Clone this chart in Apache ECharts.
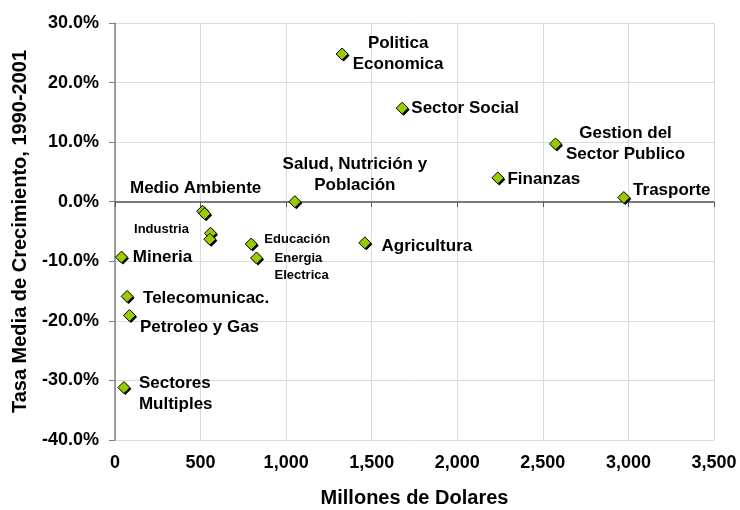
<!DOCTYPE html>
<html>
<head>
<meta charset="utf-8">
<script src="https://cdn.jsdelivr.net/npm/echarts@6/dist/echarts.min.js"></script>
<style>
  html, body { margin: 0; padding: 0; background: #fff; }
  #container { width: 740px; height: 510px; }
</style>
</head>
<body>
<div id="container"></div>
<script>
// sectors, investment (millones de dolares) and average growth 1990-2001 (%)
var sectors = ['Politica\nEconomica', 'Sector Social', 'Gestion del\nSector Publico', 'Finanzas',
    'Trasporte', 'Salud, Nutrición y\nPoblación', 'Agricultura', 'Medio Ambiente', '',
    'Industria', '', 'Educación', 'Energia\nElectrica', 'Mineria', 'Telecomunicac.',
    'Petroleo y Gas', 'Sectores\nMultiples'];
var montos = [1327, 1678, 2574, 2237, 2973, 1051, 1460, 512, 524, 558, 554, 796, 827, 38, 71, 85, 52];
var tasas = [24.8, 15.7, 9.7, 4.0, 0.7, 0.0, -6.9, -1.6, -2.0, -5.3, -6.3, -7.1, -9.45, -9.3, -15.9, -19.1, -31.2];

// label placement: [dx, dy, align] relative to the marker centre
var labelPos = [[56, 0], [63, 0], [70, 0], [46, 1], [48, -7], [60, -27], [62, 3], [-7, -23], null,
    [-49, -4], null, [46, -5], [18, 9, 'left'], [41, 0], [79, 2], [70, 12], [15, 6, 'left']];
var smallLabels = [9, 11, 12];

var dom = document.getElementById('container');
var myChart = echarts.init(dom, null, { renderer: 'canvas' });

var points = montos.map(function (m, i) {
    var p = labelPos[i];
    var small = smallLabels.indexOf(i) >= 0;
    return {
        value: [m, tasas[i]],
        name: sectors[i],
        label: p ? {
            show: true,
            position: 'inside',
            offset: [p[0], p[1]],
            align: p[2] || 'center',
            verticalAlign: 'middle',
            fontSize: small ? 13 : 17,
            lineHeight: small ? 17 : 21
        } : { show: false }
    };
});

var option = {
    backgroundColor: '#fff',
    animation: false,
    textStyle: { fontFamily: 'Liberation Sans, Arial, sans-serif' },
    grid: { left: 115, right: 26, top: 23, bottom: 70, outerBoundsMode: 'none', containLabel: false },
    xAxis: [
        {
            type: 'value',
            min: 0,
            max: 3500,
            interval: 500,
            name: 'Millones de Dolares',
            nameLocation: 'middle',
            nameGap: 48,
            nameTextStyle: { fontSize: 20, fontWeight: 'bold', color: '#000' },
            axisLine: { show: false },
            axisTick: { show: false },
            axisLabel: {
                margin: 14,
                fontSize: 18,
                fontWeight: 'bold',
                color: '#000',
                formatter: function (v) { return v.toLocaleString('en-US'); }
            },
            splitLine: { show: true, lineStyle: { color: '#dcdcdc', width: 1 } }
        },
        {
            // axis line crossing at 0%
            type: 'value',
            min: 0,
            max: 3500,
            interval: 500,
            position: 'bottom',
            offset: -238,
            axisLine: { show: true, onZero: false, lineStyle: { color: '#555', width: 1.5 } },
            axisTick: { show: true, length: 5, lineStyle: { color: '#555' } },
            axisLabel: { show: false },
            splitLine: { show: false }
        }
    ],
    yAxis: {
        type: 'value',
        min: -40,
        max: 30,
        interval: 10,
        name: 'Tasa Media de Crecimiento, 1990-2001',
        nameLocation: 'middle',
        nameGap: 85,
        nameTextStyle: { fontSize: 20, fontWeight: 'bold', color: '#000' },
        axisLine: { show: true, lineStyle: { color: '#808080', width: 1.5 } },
        axisTick: { show: true, length: 6, lineStyle: { color: '#808080' } },
        axisLabel: {
            margin: 16,
            fontSize: 18,
            fontWeight: 'bold',
            color: '#000',
            formatter: function (v) { return v.toFixed(1) + '%'; }
        },
        splitLine: { show: true, lineStyle: { color: '#dcdcdc', width: 1 } }
    },
    series: [
        {
            // marker shadow
            name: 'sombra',
            type: 'scatter',
            symbol: 'diamond',
            symbolSize: 12,
            symbolOffset: [1.5, 1.5],
            silent: true,
            itemStyle: { color: '#000', opacity: 1 },
            data: montos.map(function (m, i) { return [m, tasas[i]]; }),
            z: 1
        },
        {
            name: 'Sectores',
            type: 'scatter',
            symbol: 'diamond',
            symbolSize: 12,
            itemStyle: { color: '#99cc00', borderColor: '#000', borderWidth: 1, opacity: 1 },
            label: { color: '#000', fontWeight: 'bold', formatter: '{b}' },
            data: points,
            z: 2
        }
    ]
};

myChart.setOption(option);
window.addEventListener('resize', myChart.resize);
</script>
</body>
</html>
